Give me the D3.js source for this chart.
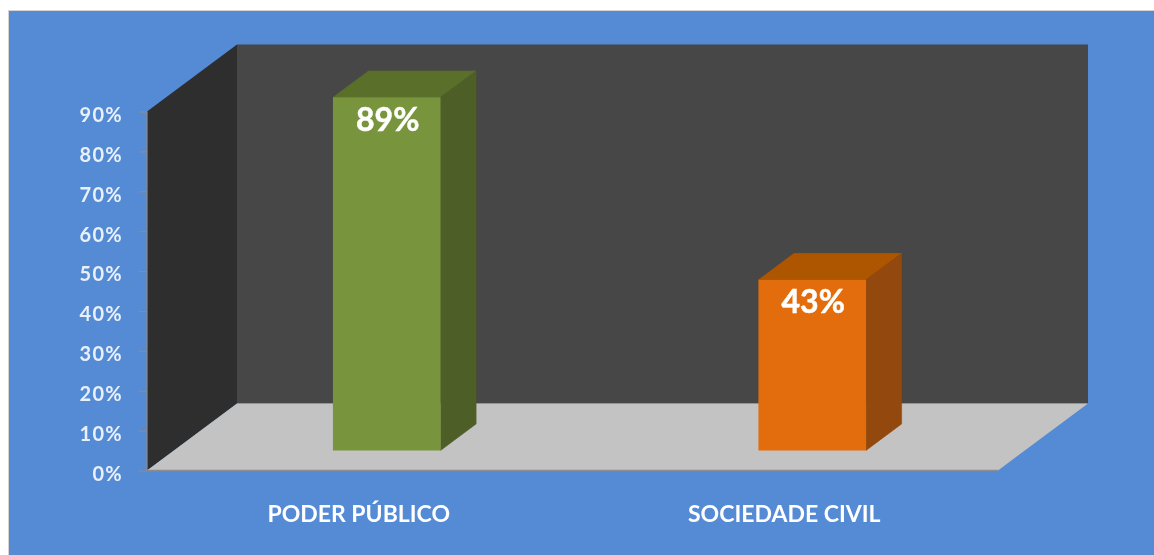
<!DOCTYPE html>
<html>
<head>
<meta charset="utf-8">
<script src="https://cdn.jsdelivr.net/npm/d3@7"></script>
<style>
  html, body { margin: 0; padding: 0; background: #fff; overflow: hidden; }
  text { font-family: Lato, "Open Sans", sans-serif; font-weight: 700; fill: #fff; }
</style>
</head>
<body>
<div id="chart-area"></div>
<script>
var categories = ["PODER PÚBLICO", "SOCIEDADE CIVIL"];
var values = [89, 43];
var yTicks = [0, 10, 20, 30, 40, 50, 60, 70, 80, 90];
var frontColors = ["#78953c", "#e36c09"];
var sideColors = ["#4d5f26", "#93480a"];
var topColors = ["#5a702c", "#ae5505"];

var width = 1154, height = 555;

var svg = d3.select("#chart-area").append("svg")
  .attr("width", width)
  .attr("height", height)
  .style("display", "block");

// soft edge, the picture is a scaled up screenshot
svg.append("filter").attr("id", "soft")
  .attr("filterUnits", "userSpaceOnUse")
  .attr("x", 0).attr("y", 0).attr("width", width).attr("height", height)
  .append("feGaussianBlur").attr("stdDeviation", 0.5);

var root = svg.append("g").attr("filter", "url(#soft)");

root.append("rect")
  .attr("x", 8.5).attr("y", 10.5)
  .attr("width", width).attr("height", height)
  .attr("fill", "#548bd5")
  .attr("stroke", "#d4d4d4");

var x = d3.scaleBand().domain(categories).range([147, 998]).paddingInner(0.747).paddingOuter(0.3735);
var y = d3.scaleLinear().domain([0, 90]).range([470.5, 111.5]);
// bars stand further back, so their scale is slightly shorter than the axis
var yBar = d3.scaleLinear().domain([0, 90]).range([470.5, 113.5]);

// oblique projection of the depth axis, 0 = front of the floor, 1 = back wall
var depthX = d3.scaleLinear().domain([0, 1]).range([0, 90]);
var depthY = d3.scaleLinear().domain([0, 1]).range([0, -67]);
var barFront = 0.3, barBack = 0.695;

function pt(px, py, z) {
  return [px + depthX(z), py + depthY(z)];
}
var line = d3.line();
function poly(points, fill) {
  return root.append("path")
    .attr("d", line(points) + "Z")
    .attr("fill", fill);
}

var x0 = x.range()[0], x1 = x.range()[1];
var yMin = y(0), yMax = y(90);

// walls and floor
poly([pt(x0, yMin, 1), pt(x1, yMin, 1), pt(x1, yMax, 1), pt(x0, yMax, 1)], "#464646");
poly([pt(x0, yMin, 0), pt(x0, yMax, 0), pt(x0, yMax, 1), pt(x0, yMin, 1)], "#2d2d2d");
poly([pt(x0, yMin, 0), pt(x0, yMin, 1), pt(x1, yMin, 1), pt(x1, yMin, 0)], "#c3c3c3");

// axes
var yAxis = root.append("g")
  .attr("transform", "translate(" + x0 + ",0)")
  .call(d3.axisLeft(y).tickValues(yTicks).tickSize(8).tickPadding(16).tickFormat(function(d) { return d + "%"; }));
yAxis.selectAll("line").attr("stroke", "#8c8c8c").attr("stroke-width", 1.2);
yAxis.select(".domain").attr("stroke", "#8c8c8c").attr("stroke-width", 1.2).attr("d", "M0," + yMax + "V" + yMin);
yAxis.selectAll("text")
  .attr("dy", "0.62em")
  .attr("y", -2.5)
  .attr("font-size", 20)
  .style("letter-spacing", "1.3px")
  .style("font-family", "Lato, sans-serif")
  .style("font-weight", 700)
  .style("fill", "#e8f0fa");

var xAxis = root.append("g")
  .attr("transform", "translate(0," + yMin + ")")
  .call(d3.axisBottom(x).tickSize(0).tickPadding(35));
xAxis.select(".domain").attr("stroke", "#8c8c8c").attr("stroke-width", 1.5).attr("d", "M" + x0 + ",0H" + x1);
xAxis.selectAll("text")
  .attr("font-size", 23)
  .attr("dx", -1)
  .style("font-family", "Lato, sans-serif")
  .style("font-weight", 700)
  .style("fill", "#fff");

// bars
values.forEach(function(v, i) {
  var left = x(categories[i]);
  var right = left + x.bandwidth();
  var top = yBar(v), base = yBar(0);

  // stroke in own colour closes the hairline between the faces
  poly([pt(left, top, barFront), pt(left, top, barBack), pt(right, top, barBack), pt(right, top, barFront)], topColors[i])
    .attr("stroke", topColors[i]).attr("stroke-width", 0.5);
  poly([pt(right, base, barFront), pt(right, top, barFront), pt(right, top, barBack), pt(right, base, barBack)], sideColors[i])
    .attr("stroke", sideColors[i]).attr("stroke-width", 0.5);
  poly([pt(left, base, barFront), pt(left, top, barFront), pt(right, top, barFront), pt(right, base, barFront)], frontColors[i]);

  var p = pt((left + right) / 2, top, barFront);
  root.append("text")
    .attr("x", p[0] + 1)
    .attr("y", p[1] + 33.5)
    .attr("text-anchor", "middle")
    .attr("font-size", 32)
    .attr("stroke", "#fff")
    .attr("stroke-width", 0.5)
    .text(v + "%");
});
</script>
</body>
</html>
